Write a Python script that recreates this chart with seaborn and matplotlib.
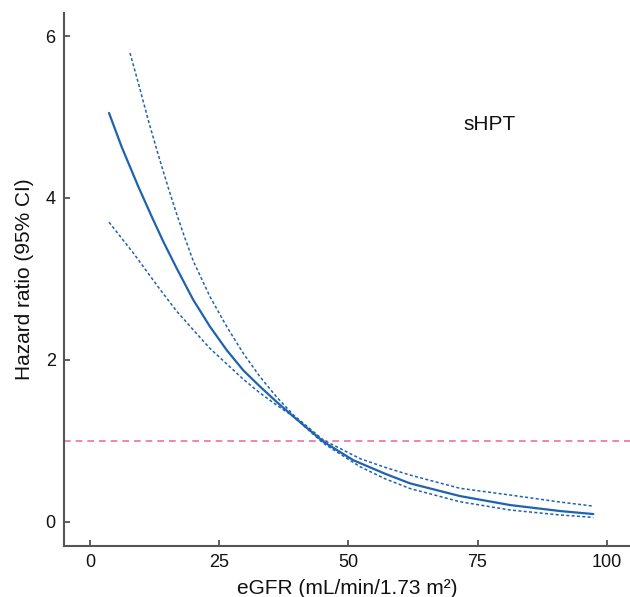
import numpy as np
import pandas as pd
import matplotlib
matplotlib.use("Agg")
import matplotlib.pyplot as plt
import seaborn as sns

# ---- data ----
egfr_main = [3.68, 6.13, 9.35, 11.94, 14.19, 16.78, 19.99, 23.22, 26.46, 29.67, 32.9,
             36.13, 39.35, 45.15, 50.96, 57.1, 61.93, 71.6, 81.3, 91.0, 97.4]
hr_main = [5.05, 4.63, 4.14, 3.77, 3.46, 3.13, 2.74, 2.41, 2.12, 1.87, 1.67,
           1.48, 1.30, 0.99, 0.76, 0.593, 0.474, 0.317, 0.206, 0.132, 0.095]

egfr_upper = [7.74, 9.35, 11.28, 13.22, 15.17, 16.78, 18.39, 19.99, 23.22, 26.46, 29.67,
              32.9, 36.13, 39.35, 45.15, 52.25, 57.1, 61.9, 71.6, 81.3, 91.0, 97.4]
hr_upper = [5.79, 5.42, 4.96, 4.53, 4.12, 3.80, 3.50, 3.22, 2.78, 2.41, 2.08,
            1.79, 1.54, 1.32, 1.01, 0.78, 0.672, 0.577, 0.413, 0.33, 0.243, 0.193]

egfr_lower = [3.68, 8.38, 13.55, 16.78, 19.99, 23.22, 26.46, 29.67, 32.9, 36.13, 39.35,
              45.15, 52.25, 57.1, 61.93, 71.6, 81.3, 91.0, 97.4]
hr_lower = [3.70, 3.32, 2.87, 2.60, 2.37, 2.14, 1.95, 1.76, 1.59, 1.44, 1.30,
            0.97, 0.68, 0.531, 0.41, 0.247, 0.145, 0.083, 0.054]

ref_hr = 1.0
x_ticks = [0, 25, 50, 75, 100]
y_ticks = [0, 2, 4, 6]
annotation = "sHPT"

# ---- style ----
sns.set_theme(style="white")
plt.rcParams["font.family"] = ["Liberation Sans", "DejaVu Sans"]

fig = plt.figure(figsize=(6.3, 5.97), dpi=100)
ax = fig.add_axes([64 / 630, (597 - 545.7) / 597, 566 / 630, 533 / 597])

blue = "#1f63b0"
df_main = pd.DataFrame({"eGFR": egfr_main, "HR": hr_main})
df_up = pd.DataFrame({"eGFR": egfr_upper, "HR": hr_upper})
df_lo = pd.DataFrame({"eGFR": egfr_lower, "HR": hr_lower})

ax.axhline(ref_hr, color="#f0709a", linestyle=(0, (4, 3)), linewidth=1.2, zorder=1)
sns.lineplot(data=df_up, x="eGFR", y="HR", ax=ax, color=blue, linewidth=1.1,
             linestyle=(0, (2, 1.5)), sort=False, estimator=None)
sns.lineplot(data=df_lo, x="eGFR", y="HR", ax=ax, color=blue, linewidth=1.1,
             linestyle=(0, (2, 1.5)), sort=False, estimator=None)
sns.lineplot(data=df_main, x="eGFR", y="HR", ax=ax, color=blue, linewidth=1.6,
             sort=False, estimator=None)

ax.set_xlim(-5.03, 104.5)
ax.set_ylim(-0.296, 6.288)
ax.set_xticks(x_ticks)
ax.set_yticks(y_ticks)
ax.tick_params(direction="in", length=4.5, width=1.2, color="#444444",
               labelsize=13, labelcolor="#111111", pad=6, bottom=True, left=True)

for side in ["top", "right"]:
    ax.spines[side].set_visible(False)
for side in ["left", "bottom"]:
    ax.spines[side].set_color("#555555")
    ax.spines[side].set_linewidth(1.5)

ax.set_xlabel("eGFR (mL/min/1.73 m²)", fontsize=15, color="#111111", labelpad=6)
ax.set_ylabel("Hazard ratio (95% CI)", fontsize=15, color="#111111", labelpad=8)

ax.text(77.4, 4.84, annotation, fontsize=15, ha="center", va="baseline", color="#111111")

fig.savefig("out.png", dpi=100)
